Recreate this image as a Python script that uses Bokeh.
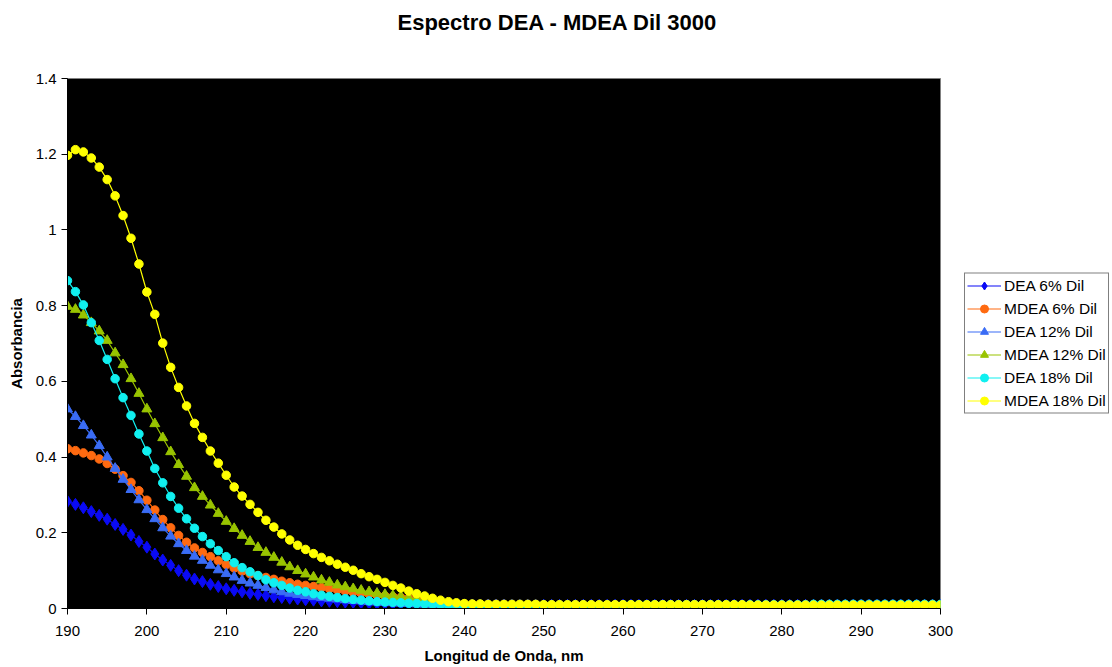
from bokeh.plotting import figure
from bokeh.models import Range1d, FixedTicker, CustomJSTickFormatter, Legend, LegendItem, Title
from bokeh.embed import file_html
from bokeh.resources import INLINE

wavelength = list(range(190, 301))

dea_6 = [
    0.283, 0.275, 0.266, 0.256, 0.246, 0.236, 0.222, 0.209, 0.194, 0.177,
    0.162, 0.144, 0.128, 0.114, 0.100, 0.088, 0.078, 0.071, 0.064, 0.058,
    0.052, 0.048, 0.044, 0.040, 0.037, 0.034, 0.031, 0.029, 0.027, 0.025,
    0.023, 0.022, 0.020, 0.019, 0.018, 0.017, 0.016, 0.015, 0.014, 0.013,
    0.013, 0.012, 0.012, 0.011, 0.011, 0.010, 0.010, 0.010, 0.009, 0.009,
    0.009, 0.009, 0.009, 0.009, 0.009, 0.009, 0.008, 0.008, 0.008, 0.008,
    0.008, 0.008, 0.008, 0.008, 0.008, 0.008, 0.008, 0.008, 0.008, 0.008,
    0.008, 0.008, 0.008, 0.008, 0.008, 0.008, 0.008, 0.008, 0.008, 0.008,
    0.008, 0.008, 0.008, 0.008, 0.008, 0.008, 0.008, 0.008, 0.008, 0.008,
    0.008, 0.008, 0.008, 0.008, 0.008, 0.008, 0.008, 0.008, 0.008, 0.008,
    0.008, 0.008, 0.008, 0.008, 0.008, 0.008, 0.008, 0.008, 0.008, 0.008,
    0.008,
]

mdea_6 = [
    0.422, 0.417, 0.411, 0.404, 0.395, 0.383, 0.368, 0.351, 0.333, 0.311,
    0.286, 0.260, 0.235, 0.213, 0.193, 0.175, 0.160, 0.148, 0.137, 0.126,
    0.116, 0.107, 0.099, 0.092, 0.087, 0.082, 0.077, 0.072, 0.068, 0.064,
    0.061, 0.058, 0.055, 0.052, 0.049, 0.046, 0.043, 0.040, 0.038, 0.035,
    0.033, 0.031, 0.029, 0.027, 0.024, 0.021, 0.018, 0.015, 0.013, 0.011,
    0.010, 0.010, 0.009, 0.009, 0.009, 0.009, 0.009, 0.009, 0.009, 0.009,
    0.009, 0.009, 0.009, 0.009, 0.009, 0.009, 0.009, 0.009, 0.009, 0.009,
    0.009, 0.009, 0.009, 0.009, 0.009, 0.009, 0.009, 0.009, 0.009, 0.009,
    0.009, 0.009, 0.009, 0.009, 0.009, 0.009, 0.009, 0.009, 0.009, 0.009,
    0.009, 0.009, 0.009, 0.009, 0.009, 0.009, 0.009, 0.009, 0.009, 0.009,
    0.009, 0.009, 0.009, 0.009, 0.009, 0.009, 0.009, 0.009, 0.009, 0.009,
    0.009,
]

dea_12 = [
    0.527, 0.507, 0.483, 0.458, 0.430, 0.400, 0.370, 0.341, 0.314, 0.287,
    0.261, 0.237, 0.213, 0.191, 0.171, 0.153, 0.138, 0.127, 0.114, 0.102,
    0.092, 0.083, 0.074, 0.067, 0.061, 0.055, 0.049, 0.044, 0.040, 0.037,
    0.034, 0.031, 0.029, 0.027, 0.025, 0.023, 0.021, 0.020, 0.018, 0.017,
    0.016, 0.015, 0.014, 0.013, 0.012, 0.011, 0.011, 0.010, 0.010, 0.009,
    0.009, 0.009, 0.008, 0.008, 0.008, 0.008, 0.008, 0.008, 0.008, 0.008,
    0.008, 0.008, 0.008, 0.008, 0.008, 0.008, 0.008, 0.008, 0.008, 0.008,
    0.008, 0.008, 0.008, 0.008, 0.008, 0.008, 0.008, 0.008, 0.008, 0.008,
    0.008, 0.008, 0.008, 0.008, 0.008, 0.008, 0.008, 0.008, 0.008, 0.008,
    0.008, 0.008, 0.008, 0.008, 0.008, 0.008, 0.008, 0.008, 0.008, 0.008,
    0.008, 0.008, 0.008, 0.008, 0.008, 0.008, 0.008, 0.008, 0.008, 0.008,
    0.008,
]

mdea_12 = [
    0.798, 0.790, 0.775, 0.755, 0.733, 0.708, 0.675, 0.644, 0.607, 0.568,
    0.527, 0.488, 0.451, 0.414, 0.380, 0.349, 0.319, 0.296, 0.273, 0.251,
    0.230, 0.211, 0.193, 0.177, 0.161, 0.148, 0.135, 0.122, 0.110, 0.100,
    0.091, 0.083, 0.075, 0.069, 0.062, 0.057, 0.052, 0.048, 0.044, 0.040,
    0.037, 0.034, 0.031, 0.028, 0.025, 0.021, 0.018, 0.015, 0.012, 0.010,
    0.008, 0.007, 0.006, 0.005, 0.005, 0.005, 0.005, 0.005, 0.005, 0.004,
    0.004, 0.004, 0.004, 0.004, 0.004, 0.004, 0.004, 0.004, 0.004, 0.004,
    0.004, 0.004, 0.004, 0.004, 0.004, 0.004, 0.004, 0.004, 0.004, 0.004,
    0.004, 0.004, 0.004, 0.004, 0.004, 0.004, 0.004, 0.004, 0.004, 0.004,
    0.004, 0.004, 0.004, 0.004, 0.004, 0.004, 0.004, 0.004, 0.004, 0.004,
    0.004, 0.004, 0.004, 0.004, 0.004, 0.004, 0.004, 0.004, 0.004, 0.004,
    0.004,
]

dea_18 = [
    0.866, 0.837, 0.802, 0.755, 0.708, 0.658, 0.607, 0.557, 0.510, 0.461,
    0.416, 0.370, 0.332, 0.296, 0.265, 0.237, 0.212, 0.190, 0.171, 0.153,
    0.137, 0.121, 0.108, 0.097, 0.087, 0.076, 0.068, 0.061, 0.054, 0.048,
    0.044, 0.039, 0.035, 0.032, 0.029, 0.026, 0.024, 0.022, 0.020, 0.018,
    0.017, 0.016, 0.015, 0.014, 0.013, 0.012, 0.011, 0.010, 0.009, 0.009,
    0.008, 0.008, 0.009, 0.009, 0.009, 0.009, 0.009, 0.009, 0.009, 0.009,
    0.009, 0.009, 0.009, 0.009, 0.009, 0.009, 0.009, 0.009, 0.009, 0.009,
    0.010, 0.010, 0.010, 0.010, 0.010, 0.010, 0.010, 0.010, 0.010, 0.010,
    0.010, 0.010, 0.010, 0.010, 0.010, 0.010, 0.010, 0.010, 0.010, 0.010,
    0.010, 0.010, 0.010, 0.010, 0.011, 0.011, 0.011, 0.011, 0.011, 0.011,
    0.011, 0.011, 0.011, 0.011, 0.011, 0.011, 0.011, 0.011, 0.011, 0.011,
    0.011,
]

mdea_18 = [
    1.197, 1.212, 1.206, 1.190, 1.166, 1.133, 1.090, 1.038, 0.978, 0.910,
    0.836, 0.777, 0.701, 0.637, 0.584, 0.535, 0.489, 0.452, 0.416, 0.384,
    0.352, 0.321, 0.297, 0.275, 0.254, 0.233, 0.215, 0.197, 0.181, 0.167,
    0.156, 0.145, 0.135, 0.126, 0.117, 0.109, 0.101, 0.092, 0.084, 0.077,
    0.069, 0.061, 0.054, 0.046, 0.039, 0.033, 0.027, 0.022, 0.018, 0.015,
    0.013, 0.012, 0.012, 0.011, 0.011, 0.011, 0.011, 0.011, 0.011, 0.011,
    0.010, 0.010, 0.010, 0.010, 0.010, 0.010, 0.010, 0.010, 0.010, 0.010,
    0.010, 0.010, 0.010, 0.010, 0.010, 0.010, 0.010, 0.010, 0.010, 0.010,
    0.010, 0.010, 0.010, 0.010, 0.010, 0.010, 0.009, 0.009, 0.009, 0.009,
    0.009, 0.009, 0.009, 0.009, 0.009, 0.009, 0.009, 0.009, 0.009, 0.009,
    0.009, 0.009, 0.009, 0.009, 0.009, 0.009, 0.009, 0.009, 0.009, 0.009,
    0.009,
]

series_names = ["DEA 6% Dil", "MDEA 6% Dil", "DEA 12% Dil", "MDEA 12% Dil", "DEA 18% Dil", "MDEA 18% Dil"]
series_values = [dea_6, mdea_6, dea_12, mdea_12, dea_18, mdea_18]
series_colors = ["#0A0AF5", "#FF6A10", "#3A6CF5", "#99C400", "#10F0F0", "#FFFF00"]
series_markers = ["diamond", "circle", "triangle", "triangle", "circle", "circle"]
marker_sizes = [12, 8.5, 10, 10, 8.5, 8.5]

x_ticks = [190, 200, 210, 220, 230, 240, 250, 260, 270, 280, 290, 300]
y_ticks = [0, 0.2, 0.4, 0.6, 0.8, 1.0, 1.2, 1.4]

FONT = "Liberation Sans"

p = figure(frame_width=873, frame_height=530, output_backend="svg", toolbar_location=None,
           x_range=Range1d(190, 300), y_range=Range1d(0, 1.4),
           min_border_left=67, min_border_right=170, min_border_top=78, min_border_bottom=57)

p.background_fill_color = "black"
p.border_fill_color = "white"
p.outline_line_color = "#808080"
p.outline_line_width = 1
p.grid.visible = False

spacer = Title(text=" ", text_font_size="14px", standoff=22)
main_title = Title(text="Espectro DEA - MDEA Dil 3000", align="left", offset=330,
                   text_font=FONT, text_font_size="22px", text_font_style="bold",
                   text_color="black", standoff=8)
p.add_layout(spacer, "above")
p.add_layout(main_title, "above")

for ax in (p.xaxis[0], p.yaxis[0]):
    ax.axis_line_color = "black"
    ax.major_tick_line_color = "black"
    ax.minor_tick_line_color = None
    ax.major_tick_out = 6
    ax.major_tick_in = 0
    ax.major_label_text_font = FONT
    ax.major_label_text_font_size = "15px"
    ax.major_label_text_color = "black"
    ax.axis_label_text_font = FONT
    ax.axis_label_text_font_size = "15px"
    ax.axis_label_text_font_style = "bold"
    ax.axis_label_text_color = "black"

p.xaxis.ticker = FixedTicker(ticks=x_ticks)
p.yaxis.ticker = FixedTicker(ticks=y_ticks)
p.yaxis.formatter = CustomJSTickFormatter(code="return tick.toFixed(1).replace(/\\.0$/, '');")
p.xaxis.axis_label = "Longitud de Onda, nm"
p.yaxis.axis_label = "Absorbancia"
p.xaxis.major_label_standoff = 11
p.xaxis.axis_label_standoff = 8
p.yaxis.major_label_standoff = 5
p.yaxis.axis_label_standoff = 8

items = []
for name, vals, col, mk, sz in zip(series_names, series_values, series_colors, series_markers, marker_sizes):
    lr = p.line(wavelength, vals, line_color=col, line_width=1.2)
    sr = p.scatter(wavelength, vals, marker=mk, size=sz, fill_color=col, line_color=col)
    items.append(LegendItem(label=name, renderers=[lr, sr]))

legend = Legend(items=items, location="center_left")
legend.border_line_color = "black"
legend.border_line_width = 1
legend.background_fill_color = "white"
legend.background_fill_alpha = 1
legend.label_text_font = FONT
legend.label_text_font_size = "15.5px"
legend.label_text_color = "black"
legend.glyph_width = 34
legend.glyph_height = 20
legend.label_height = 20
legend.spacing = 3
legend.padding = 2
legend.margin = 24
legend.label_standoff = 3
p.add_layout(legend, "right")

open("out.html", "w").write(file_html(p, INLINE))
